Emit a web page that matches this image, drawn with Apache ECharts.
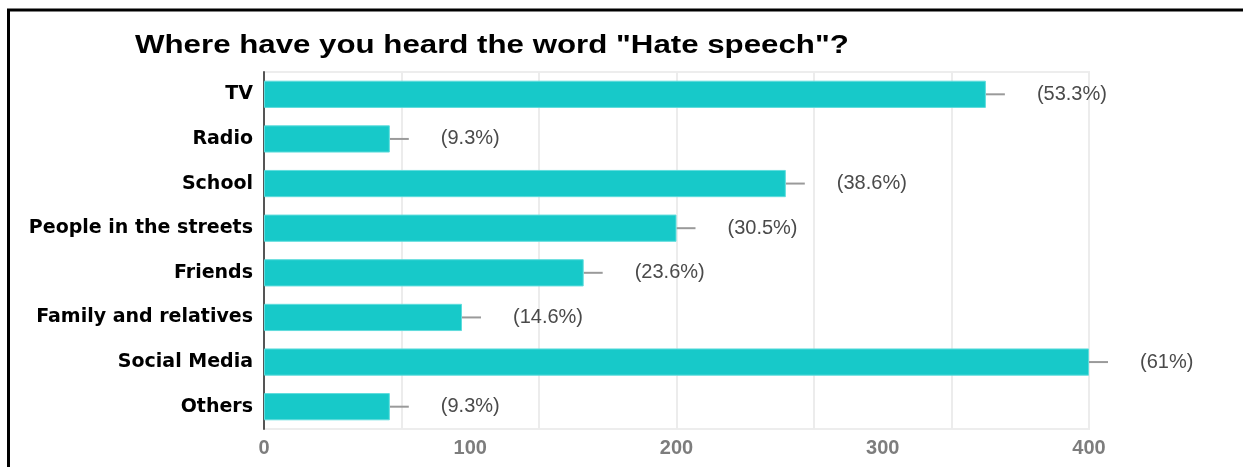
<!DOCTYPE html>
<html>
<head>
<meta charset="utf-8">
<title>Where have you heard the word "Hate speech"?</title>
<script src="https://cdn.jsdelivr.net/npm/echarts@6/dist/echarts.min.js"></script>
<style>
  html, body { margin: 0; padding: 0; background: #ffffff; }
  #chart { width: 1243px; height: 467px; }
</style>
</head>
<body>
<div id="chart"></div>
<script>
// Survey answers: number of respondents per source
const categories = ['TV', 'Radio', 'School', 'People in the streets', 'Friends', 'Family and relatives', 'Social Media', 'Others'];
const counts = [350, 61, 253, 200, 155, 96, 400, 61];
const percentLabels = ['(53.3%)', '(9.3%)', '(38.6%)', '(30.5%)', '(23.6%)', '(14.6%)', '(61%)', '(9.3%)'];
const tickValues = [0, 100, 200, 300, 400];
const chartTitle = 'Where have you heard the word "Hate speech"?';

const chart = echarts.init(document.getElementById('chart'), null, { renderer: 'canvas' });

const axisMax = tickValues[tickValues.length - 1];
const sans = 'Liberation Sans, Arial, sans-serif';

chart.setOption({
  backgroundColor: '#ffffff',
  animation: false,
  graphic: [
    // frame: heavy rule along the top and down the left side
    { type: 'line', shape: { x1: 7, y1: 10, x2: 1243, y2: 10 }, style: { stroke: '#000000', lineWidth: 3 } },
    { type: 'line', shape: { x1: 8.5, y1: 9, x2: 8.5, y2: 467 }, style: { stroke: '#000000', lineWidth: 3 } },
    // wide bold heading
    {
      type: 'text',
      x: 135,
      y: 46,
      scaleX: 1.25,
      originX: 0,
      originY: 0,
      style: {
        text: chartTitle,
        fontFamily: sans,
        fontWeight: 'bold',
        fontSize: 25,
        fill: '#000000',
        verticalAlign: 'middle',
        align: 'left'
      }
    }
  ],
  grid: {
    left: 264, right: 154, top: 72, bottom: 38,
    show: true,
    borderColor: '#ededed',
    borderWidth: 2,
    backgroundColor: 'transparent'
  },
  xAxis: [
    {
      type: 'value',
      min: 0,
      max: axisMax,
      interval: 100,
      axisLine: { show: false },
      axisTick: { show: false },
      splitLine: { show: false },
      axisLabel: {
        margin: 9,
        fontFamily: sans,
        fontWeight: 'bold',
        fontSize: 20,
        color: '#7d7d7d'
      }
    },
    {
      // light background gridlines, spaced independently of the tick labels
      type: 'value',
      min: 0,
      max: axisMax,
      interval: axisMax / 6,
      position: 'bottom',
      axisLine: { show: false },
      axisTick: { show: false },
      axisLabel: { show: false },
      splitLine: { show: true, lineStyle: { color: '#ececec', width: 2 } }
    }
  ],
  yAxis: {
    type: 'category',
    data: categories,
    inverse: true,
    axisLine: { show: true, lineStyle: { color: '#555555', width: 2 } },
    axisTick: { show: false },
    splitLine: { show: false },
    axisLabel: {
      margin: 11,
      fontFamily: 'DejaVu Sans, Verdana, sans-serif',
      fontWeight: 'bold',
      fontSize: 19,
      color: '#000000'
    }
  },
  series: [
    {
      type: 'bar',
      xAxisIndex: 0,
      data: counts,
      barCategoryGap: '39%',
      itemStyle: { color: '#17c9c9', borderColor: '#5fdcdc', borderWidth: 1 },
      label: {
        show: true,
        position: 'right',
        distance: 51,
        formatter: (p) => percentLabels[p.dataIndex],
        fontFamily: sans,
        fontSize: 20,
        color: '#4a4a4a'
      },
      z: 3
    },
    {
      // short grey whisker extending from the end of each bar
      type: 'custom',
      xAxisIndex: 0,
      data: counts.map((v, i) => [v, i]),
      renderItem: (params, api) => {
        const end = api.coord([api.value(0), api.value(1)]);
        return {
          type: 'line',
          shape: { x1: end[0], y1: end[1], x2: end[0] + 19, y2: end[1] },
          style: { stroke: '#9a9a9a', lineWidth: 2 }
        };
      },
      silent: true,
      z: 2
    }
  ]
});
</script>
</body>
</html>
